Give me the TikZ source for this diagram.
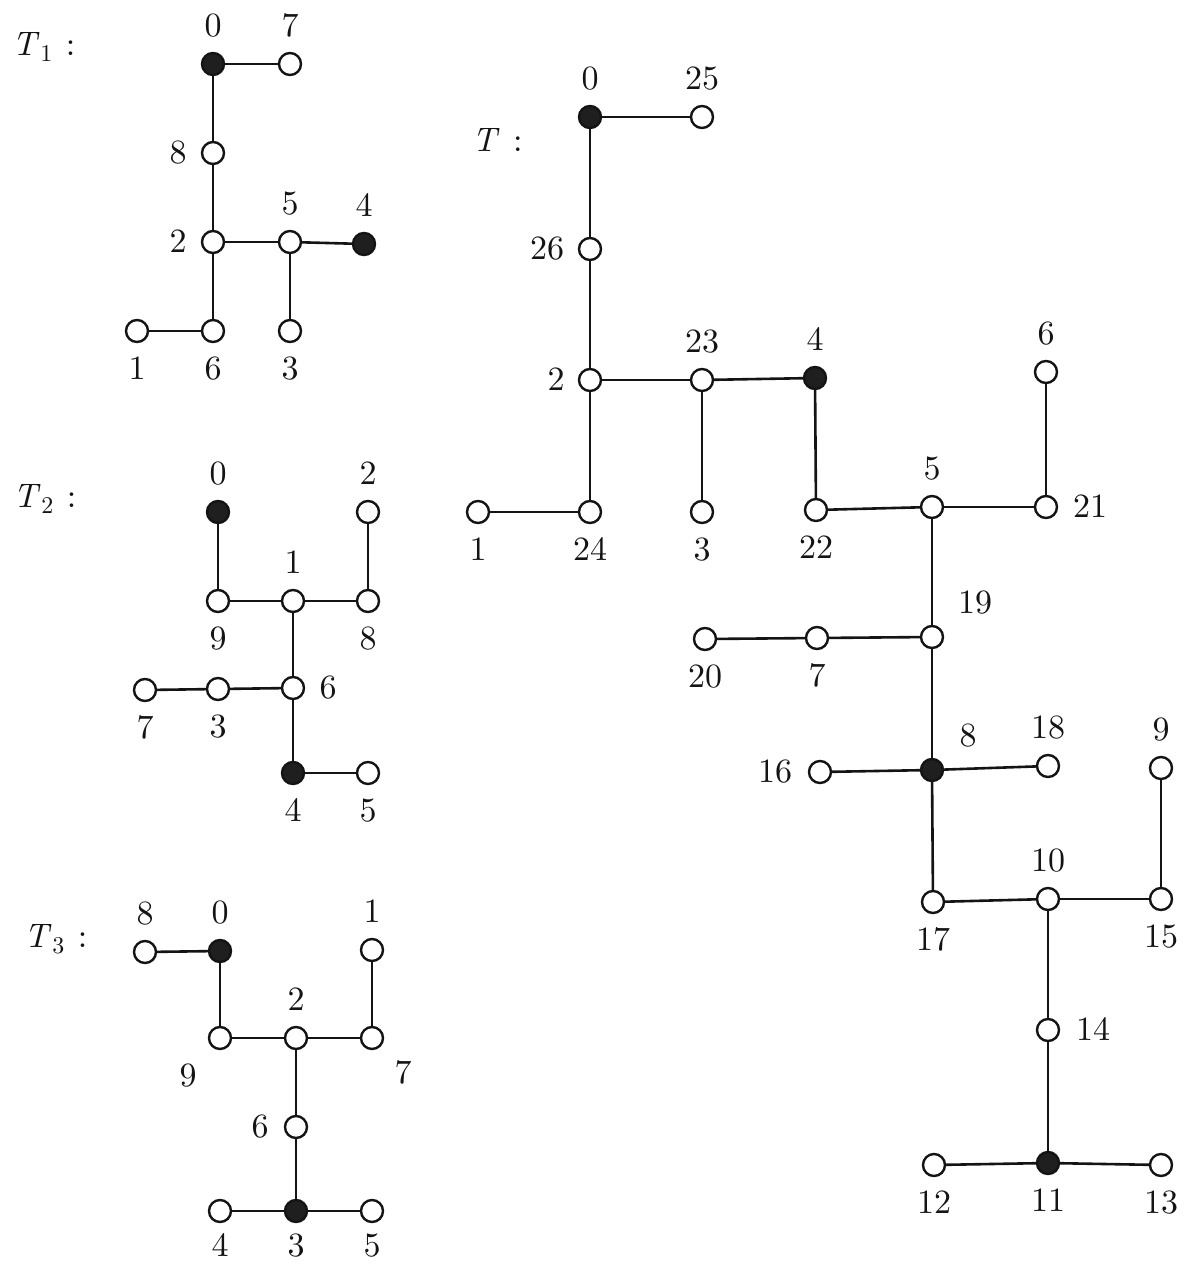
\documentclass[tikz,border=0pt]{standalone}
\usepackage{fontspec}
\setmainfont{lmroman10-regular}[Extension=.otf,ItalicFont=lmroman10-italic,BoldFont=lmroman10-bold]
\newcommand\tsub[2]{\textit{#1}\kern0.02em\raisebox{-0.2em}{\fontsize{24}{24}\selectfont #2}}
\begin{document}
\begin{tikzpicture}[x=1pt,y=-1pt,
  font=\fontsize{34}{40}\selectfont,
  every node/.style={text=black!92},
  vo/.style={circle,draw=black!92,line width=2.4pt,fill=white,minimum size=22pt,inner sep=0pt},
  vf/.style={vo,fill=black!88},
  lab/.style={inner sep=0pt,text height=21.9pt,text depth=0pt},
  tlab/.style={inner sep=0pt,anchor=base west},
  edge/.style={draw=black!92,line width=2.6pt}]
\useasboundingbox[fill=white] (0,0) rectangle (1187,1266);
\newcommand\vx[7]{\node[#2] (#1) at (#3,#4) {}; \node[lab] (#1l) at ({#3+#6},{#4+#7}) {#5};}
% ---------- T1 ----------
\node[tlab] (T1) at (12,55) {\tsub{T}{1}\hspace{0.4em}:};
\vx{a0}{vf}{213}{64}{0}{0}{-38}
\vx{a7}{vo}{290}{64}{7}{0}{-38}
\vx{a8}{vo}{213}{153}{8}{-35}{0}
\vx{a2}{vo}{213}{242}{2}{-35}{0}
\vx{a5}{vo}{290}{242}{5}{0}{-38}
\vx{a4}{vf}{364}{244}{4}{0}{-38}
\vx{a1}{vo}{137}{331}{1}{0}{38}
\vx{a6}{vo}{213}{331}{6}{0}{38}
\vx{a3}{vo}{290}{331}{3}{0}{38}
\foreach \u/\v in {a0/a7,a0/a8,a8/a2,a2/a5,a5/a4,a5/a3,a2/a6,a6/a1}
  \draw[edge] (\u) -- (\v);
% ---------- T2 ----------
\node[tlab] (T2) at (13,507) {\tsub{T}{2}\hspace{0.4em}:};
\vx{b0}{vf}{218}{512}{0}{0}{-38}
\vx{b2}{vo}{368}{512}{2}{0}{-38}
\vx{b9}{vo}{218}{601}{9}{0}{38}
\vx{b1}{vo}{293}{601}{1}{0}{-38}
\vx{b8}{vo}{368}{601}{8}{0}{38}
\vx{b7}{vo}{145}{690}{7}{0}{38}
\vx{b3}{vo}{218}{689}{3}{0}{38}
\vx{b6}{vo}{293}{688}{6}{35}{0}
\vx{b4}{vf}{293}{773}{4}{0}{38}
\vx{b5}{vo}{368}{773}{5}{0}{38}
\foreach \u/\v in {b0/b9,b9/b1,b1/b8,b8/b2,b1/b6,b6/b3,b3/b7,b6/b4,b4/b5}
  \draw[edge] (\u) -- (\v);
% ---------- T3 ----------
\node[tlab] (T3) at (24,947) {\tsub{T}{3}\hspace{0.4em}:};
\vx{c8}{vo}{145}{952}{8}{0}{-38}
\vx{c0}{vf}{220}{951}{0}{0}{-38}
\vx{c1}{vo}{372}{950}{1}{0}{-38}
\vx{c9}{vo}{220}{1038}{9}{-32}{38}
\vx{c2}{vo}{296}{1038}{2}{0}{-38}
\vx{c7}{vo}{372}{1038}{7}{31}{35}
\vx{c6}{vo}{296}{1127}{6}{-36}{0}
\vx{c4}{vo}{220}{1211}{4}{0}{35}
\vx{c3}{vf}{296}{1211}{3}{0}{35}
\vx{c5}{vo}{372}{1211}{5}{0}{35}
\foreach \u/\v in {c8/c0,c0/c9,c9/c2,c2/c7,c7/c1,c2/c6,c6/c3,c3/c4,c3/c5}
  \draw[edge] (\u) -- (\v);
% ---------- T ----------
\node[tlab] (T) at (472,151) {\textit{T}\hspace{0.4em}:};
\vx{d0}{vf}{590}{117}{0}{0}{-38}
\vx{d25}{vo}{702}{117}{25}{0}{-38}
\vx{d26}{vo}{590}{249}{26}{-43}{0}
\vx{d2}{vo}{590}{380}{2}{-34}{0}
\vx{d23}{vo}{702}{380}{23}{0}{-38}
\vx{d4}{vf}{815}{378}{4}{0}{-38}
\vx{d1}{vo}{478}{512}{1}{0}{38}
\vx{d24}{vo}{590}{512}{24}{0}{38}
\vx{d3}{vo}{702}{512}{3}{0}{38}
\vx{d22}{vo}{816}{510}{22}{0}{38}
\vx{d5}{vo}{932}{507}{5}{0}{-38}
\vx{d6}{vo}{1046}{372}{6}{0}{-38}
\vx{d21}{vo}{1046}{507}{21}{44}{0}
\vx{d19}{vo}{932}{637}{19}{43}{-34}
\vx{d20}{vo}{705}{639}{20}{0}{38}
\vx{d7}{vo}{817}{638}{7}{0}{38}
\vx{d8}{vf}{932}{770}{8}{36}{-34}
\vx{d16}{vo}{820}{772}{16}{-45}{0}
\vx{d18}{vo}{1048}{766}{18}{0}{-38}
\vx{d9}{vo}{1161}{768}{9}{0}{-38}
\vx{d17}{vo}{933}{902}{17}{0}{38}
\vx{d10}{vo}{1048}{899}{10}{0}{-38}
\vx{d15}{vo}{1161}{899}{15}{0}{38}
\vx{d14}{vo}{1048}{1030}{14}{45}{0}
\vx{d11}{vf}{1048}{1163}{11}{0}{38}
\vx{d12}{vo}{934}{1165}{12}{0}{38}
\vx{d13}{vo}{1161}{1165}{13}{0}{38}
\foreach \u/\v in {d0/d25,d0/d26,d26/d2,d2/d23,d23/d4,d23/d3,d2/d24,d24/d1,
  d4/d22,d22/d5,d5/d21,d21/d6,d5/d19,d19/d7,d7/d20,d19/d8,d8/d16,d8/d18,
  d8/d17,d17/d10,d10/d15,d15/d9,d10/d14,d14/d11,d11/d12,d11/d13}
  \draw[edge] (\u) -- (\v);
\end{tikzpicture}
\end{document}
